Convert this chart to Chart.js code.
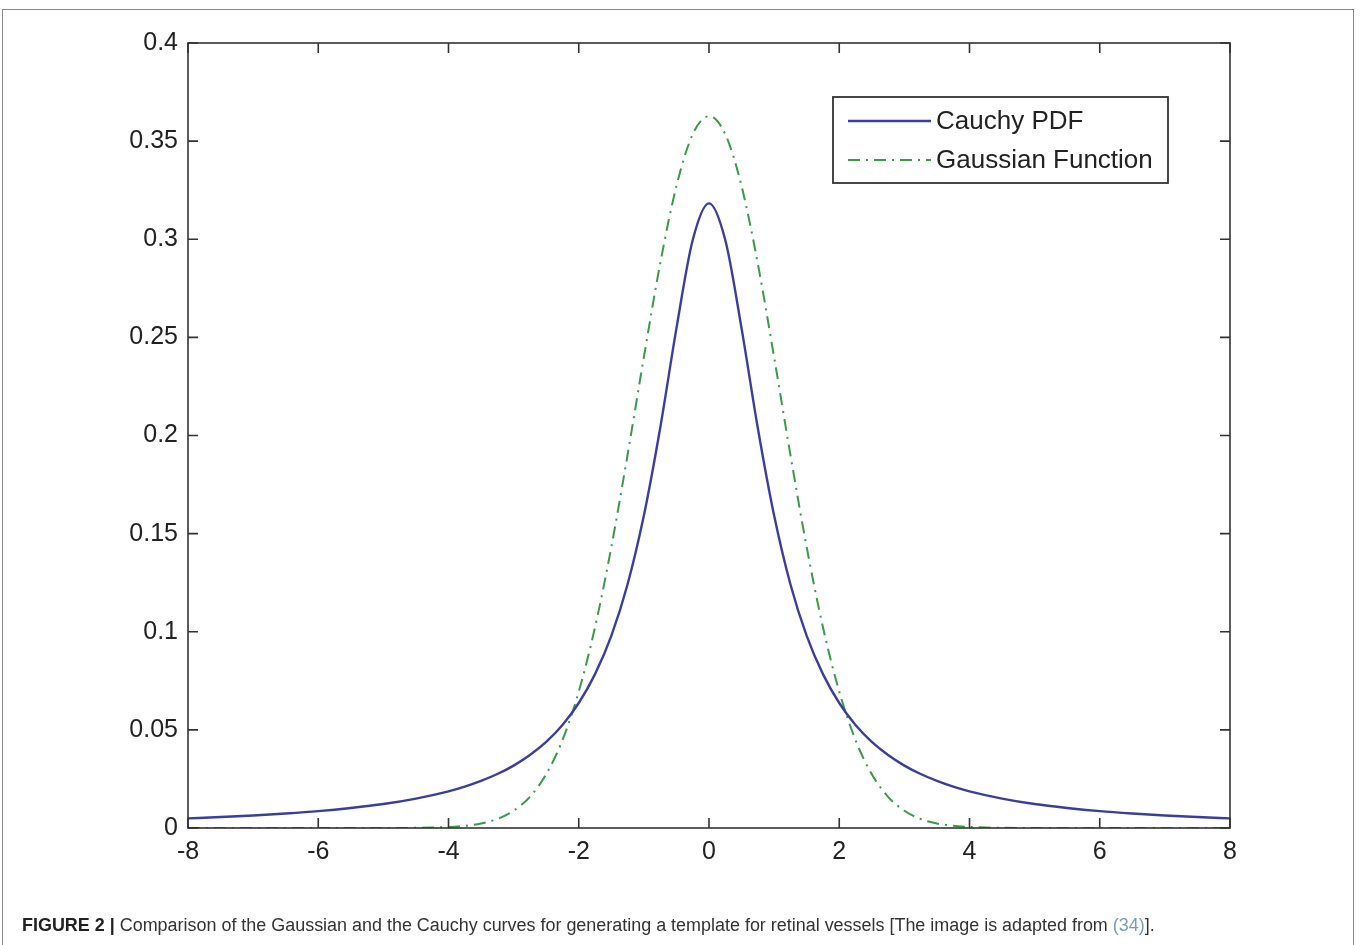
<!DOCTYPE html>
<html>
<head>
<meta charset="utf-8">
<script src="https://cdn.jsdelivr.net/npm/chart.js@4.4.0/dist/chart.umd.min.js"></script>
<style>
  html,body{margin:0;padding:0;background:#fff;}
  body{width:1360px;height:945px;position:relative;overflow:hidden;}
  #frame{position:absolute;left:2px;top:9px;width:1352px;height:960px;border:1.5px solid #8a8a8a;box-sizing:border-box;}
  #wrap{position:absolute;left:0;top:0;width:1360px;height:945px;}
  #caption{position:absolute;left:22px;top:915px;font-family:"Liberation Sans",Arial,sans-serif;font-size:17.95px;color:#333;white-space:nowrap;}
  #caption b{color:#222;}
  #caption .ref{color:#7a9cc0;}
</style>
</head>
<body>
<div id="frame"></div>
<div id="wrap"><canvas id="c" width="1360" height="945"></canvas></div>
<div id="caption"><b>FIGURE 2 |</b> Comparison of the Gaussian and the Cauchy curves for generating a template for retinal vessels [The image is adapted from <span class="ref">(34)</span>].</div>
<script>
const xValues = [-8,-7.5,-7,-6.5,-6,-5.5,-5,-4.5,-4,-3.75,-3.5,-3.25,-3,-2.75,-2.5,-2.25,-2,-1.75,-1.5,-1.25,-1,-0.75,-0.5,-0.25,0,
  0.25,0.5,0.75,1,1.25,1.5,1.75,2,2.25,2.5,2.75,3,3.25,3.5,3.75,4,4.5,5,5.5,6,6.5,7,7.5,8];
const cauchyValues = [0.0049,0.0056,0.0064,0.0074,0.0086,0.0102,0.0122,0.0150,0.0187,0.0211,0.0240,0.0275,0.0318,0.0372,0.0439,0.0525,0.0637,0.0784,0.0979,0.1242,0.1592,0.2037,0.2546,0.2996,0.3183,
  0.2996,0.2546,0.2037,0.1592,0.1242,0.0979,0.0784,0.0637,0.0525,0.0439,0.0372,0.0318,0.0275,0.0240,0.0211,0.0187,0.0150,0.0122,0.0102,0.0086,0.0074,0.0064,0.0056,0.0049];
const gaussianValues = [0,0,0,0,0,0,0,0.0001,0.0005,0.0011,0.0023,0.0046,0.0088,0.0159,0.0274,0.0448,0.0695,0.1023,0.1431,0.1902,0.2399,0.2875,0.3271,0.3535,0.3627,
  0.3535,0.3271,0.2875,0.2399,0.1902,0.1431,0.1023,0.0695,0.0448,0.0274,0.0159,0.0088,0.0046,0.0023,0.0011,0.0005,0.0001,0,0,0,0,0,0,0];
const seriesNames = ["Cauchy PDF","Gaussian Function"];
const xTicks = [-8,-6,-4,-2,0,2,4,6,8];
const yTicks = [0,0.05,0.1,0.15,0.2,0.25,0.3,0.35,0.4];
const yTickLabels = ["0","0.05","0.1","0.15","0.2","0.25","0.3","0.35","0.4"];

const BLUE = '#3a3e9e';
const GREEN = '#3a9a46';
const DASH = [12,6,2,6];
const FONT = '"Liberation Sans", Arial, sans-serif';

const toXY = (vals) => xValues.map((x,i)=>({x:x,y:vals[i]}));

const boxPlugin = {
  id:'box',
  afterDatasetsDraw(chart){
    const {ctx, chartArea:a, scales} = chart;
    ctx.save();
    ctx.strokeStyle = '#333';
    ctx.lineWidth = 1.6;
    ctx.strokeRect(a.left, a.top, a.right-a.left, a.bottom-a.top);
    const L = 10;
    ctx.beginPath();
    xTicks.forEach(v=>{
      const px = scales.x.getPixelForValue(v);
      ctx.moveTo(px, a.bottom); ctx.lineTo(px, a.bottom-L);
      ctx.moveTo(px, a.top); ctx.lineTo(px, a.top+L);
    });
    yTicks.forEach(v=>{
      const py = scales.y.getPixelForValue(v);
      ctx.moveTo(a.left, py); ctx.lineTo(a.left+L, py);
      ctx.moveTo(a.right, py); ctx.lineTo(a.right-L, py);
    });
    ctx.stroke();
    // legend
    const lx = 833, ly = 97, lw = 335, lh = 86;
    ctx.fillStyle = '#fff';
    ctx.fillRect(lx, ly, lw, lh);
    ctx.lineWidth = 1.8;
    ctx.strokeStyle = '#333';
    ctx.strokeRect(lx, ly, lw, lh);
    const rows = [{y:121, color:BLUE, dash:[]},{y:160, color:GREEN, dash:DASH}];
    rows.forEach((r,i)=>{
      ctx.beginPath();
      ctx.setLineDash(r.dash);
      ctx.strokeStyle = r.color;
      ctx.lineWidth = i===0 ? 2.4 : 2;
      ctx.moveTo(848, r.y); ctx.lineTo(931, r.y);
      ctx.stroke();
      ctx.setLineDash([]);
      ctx.fillStyle = '#222';
      ctx.font = '26px ' + FONT;
      ctx.textBaseline = 'middle';
      ctx.textAlign = 'left';
      ctx.fillText(seriesNames[i], 936, r.y+1);
    });
    ctx.restore();
  }
};

new Chart(document.getElementById('c'), {
  type:'line',
  data:{
    datasets:[
      {label:seriesNames[0], data:toXY(cauchyValues), borderColor:BLUE, borderWidth:2.4, pointRadius:0, cubicInterpolationMode:'monotone', fill:false},
      {label:seriesNames[1], data:toXY(gaussianValues), borderColor:GREEN, borderWidth:2, borderDash:DASH, pointRadius:0, cubicInterpolationMode:'monotone', fill:false}
    ]
  },
  options:{
    responsive:false,
    animation:false,
    devicePixelRatio:1,
    layout:{padding:{left:90, top:43, right:130, bottom:72}},
    plugins:{legend:{display:false}, tooltip:{enabled:false}},
    scales:{
      x:{type:'linear', min:-8, max:8,
         afterFit(s){ s.height = 45; },
         afterBuildTicks(s){ s.ticks = xTicks.map(v=>({value:v})); },
         grid:{display:false, drawTicks:false},
         border:{display:false},
         ticks:{color:'#222', padding:9, font:{family:FONT, size:25}, maxRotation:0, autoSkip:false}},
      y:{type:'linear', min:0, max:0.4,
         afterFit(s){ s.width = 98; },
         afterBuildTicks(s){ s.ticks = yTicks.map(v=>({value:v})); },
         grid:{display:false, drawTicks:false},
         border:{display:false},
         ticks:{color:'#222', padding:10, font:{family:FONT, size:25}, autoSkip:false,
                callback:(v)=>{ const i = yTicks.indexOf(v); return i>=0 ? yTickLabels[i] : ''; }}}
    }
  },
  plugins:[boxPlugin]
});
</script>
</body>
</html>
